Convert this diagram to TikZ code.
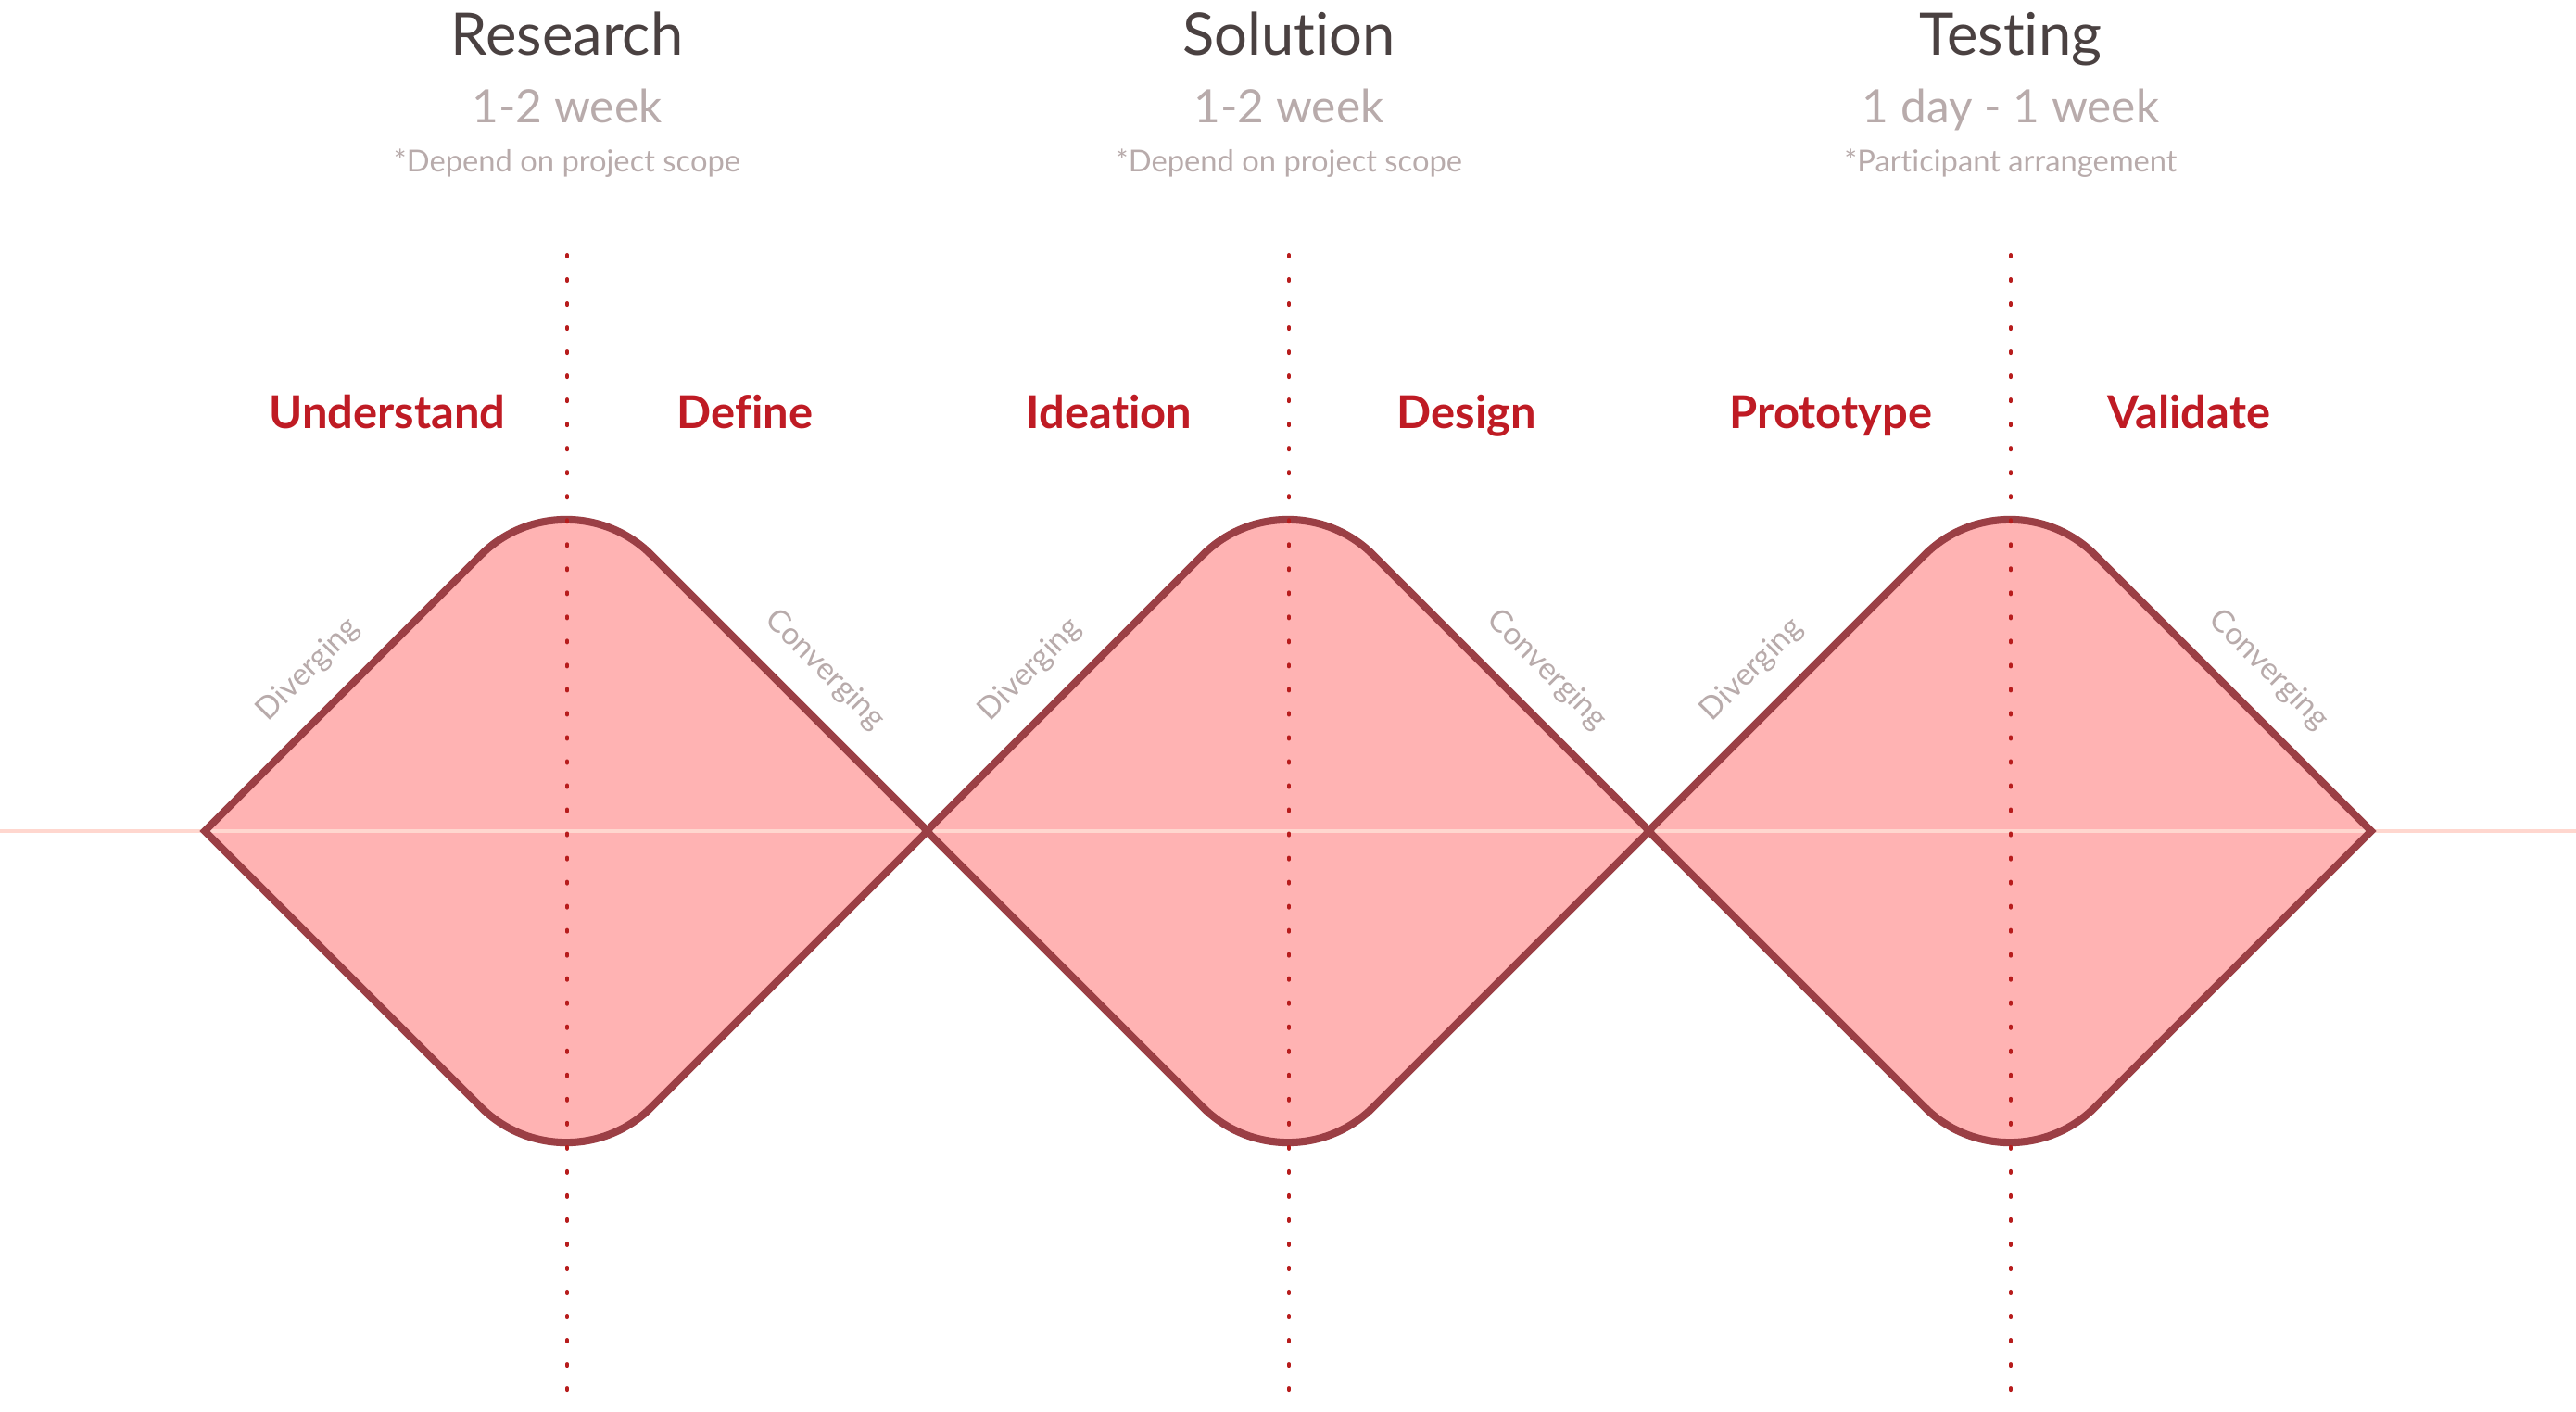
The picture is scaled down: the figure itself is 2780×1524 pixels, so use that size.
\documentclass[tikz,border=0pt]{standalone}
\usepackage{fontspec}
\setmainfont{Lato}[Ligatures={NoCommon}]
\definecolor{titlegrey}{HTML}{4A4141}
\definecolor{softgrey}{HTML}{B8ABAB}
\definecolor{stagered}{HTML}{BF1B24}
\definecolor{dotred}{HTML}{B71C1C}
\definecolor{diamondfill}{HTML}{FFB3B3}
\definecolor{diamondline}{HTML}{9B3F45}
\definecolor{axispink}{HTML}{FFD7CF}
\begin{document}
\begin{tikzpicture}[x=0.01cm,y=-0.01cm,
	title/.style={inner sep=0,anchor=base,text=titlegrey,font=\fontsize{18}{21}\selectfont},
	duration/.style={inner sep=0,anchor=base,text=softgrey,font=\fontsize{14.1}{17}\selectfont},
	hint/.style={inner sep=0,anchor=base,text=softgrey,font=\fontsize{9.3}{11}\selectfont},
	stage/.style={inner sep=0,anchor=base,text=stagered,font=\bfseries\fontsize{13.9}{16}\selectfont},
	slope/.style={inner sep=0,text=softgrey,font=\fontsize{9.5}{11}\selectfont}]
\useasboundingbox (0,0) rectangle (2780,1524);

	\foreach \c in {0,1,2}
{
	\fill[diamondfill] ({221+779*\c},897) [rounded corners=1.3cm] -- ({611+779*\c},507) [sharp corners] -- ({1001+779*\c},897) [rounded corners=1.3cm] -- ({611+779*\c},1287) [sharp corners] -- cycle;
}
\draw[axispink,line width=1.1pt] (0,897) -- (2780,897);
	\foreach \c in {0,1,2}
{
	\draw[diamondline,line width=2.3pt] ({221+779*\c},897) [rounded corners=1.3cm] -- ({611+779*\c},507) [sharp corners] -- ({1001+779*\c},897) [rounded corners=1.3cm] -- ({611+779*\c},1287) [sharp corners] -- cycle;
	\draw[dotred,line width=1.15pt,line cap=round,dash pattern=on 0.57pt off 6.83pt] ({612+779*\c},275) -- ({612+779*\c},1524);
}

	\foreach \c/\ttl/\dur/\note in {0/Research/1-2 week/*Depend on project scope, 1/Solution/1-2 week/*Depend on project scope, 2/Testing/1 day - 1 week/*Participant arrangement}
{
	\node[title] (phase\c) at ({612+779*\c},60) {\ttl};
	\node[duration] (time\c) at ({612+779*\c},132) {\dur};
	\node[hint] (hint\c) at ({612+779*\c},185) {\note};
}
	\foreach \c/\lname/\rname in {0/Understand/Define, 1/Ideation/Design, 2/Prototype/Validate}
{
	\node[stage] (stageL\c) at ({418+779*\c},462) {\lname};
	\node[stage] (stageR\c) at ({804+779*\c},462) {\rname};
	\node[slope,rotate=45] (div\c) at ({333+779*\c},723) {Diverging};
	\node[slope,rotate=-45] (conv\c) at ({890+779*\c},723) {Converging};
}
\end{tikzpicture}
\end{document}
